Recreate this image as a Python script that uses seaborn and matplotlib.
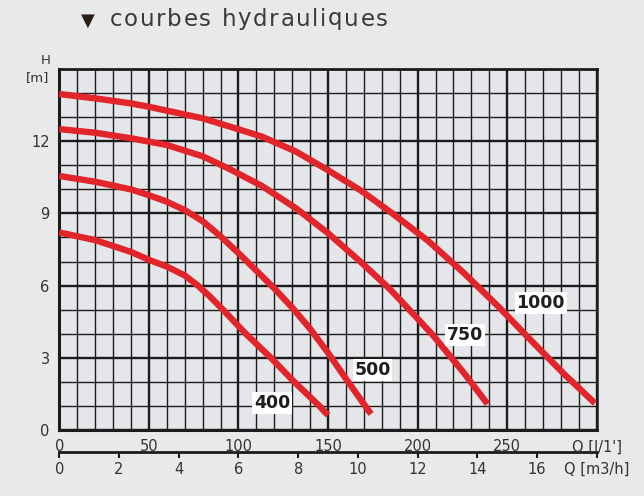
import matplotlib
matplotlib.use("Agg")
import matplotlib.pyplot as plt
from matplotlib.ticker import MultipleLocator
from matplotlib.font_manager import FontProperties, findfont, get_font
import numpy as np
import pandas as pd
import seaborn as sns

# ---- data ----
q_1000 = [0, 20, 40, 50, 60, 80, 95, 113, 132, 150, 169, 187, 206, 226, 245, 263, 282, 299]
h_1000 = [13.97, 13.79, 13.58, 13.44, 13.28, 12.96, 12.62, 12.2, 11.58, 10.8, 9.92,
          8.94, 7.85, 6.51, 5.13, 3.74, 2.3, 1.1]

q_750 = [0, 20, 40, 50, 60, 80, 95, 113, 132, 150, 169, 184, 189, 208, 226, 239]
h_750 = [12.51, 12.36, 12.13, 11.99, 11.85, 11.38, 10.85, 10.15, 9.22, 8.18, 6.93,
         5.89, 5.5, 3.98, 2.35, 1.07]

q_500 = [0, 20, 40, 50, 60, 70, 80, 90, 100, 110, 120, 130, 140, 150, 160, 174]
h_500 = [10.56, 10.32, 10.0, 9.76, 9.49, 9.14, 8.68, 8.05, 7.35, 6.62, 5.88, 5.08, 4.2,
         3.2, 2.12, 0.65]

q_400 = [0, 20, 40, 50, 60, 70, 77, 84, 91, 104, 118, 131, 145, 150]
h_400 = [8.21, 7.89, 7.4, 7.07, 6.79, 6.42, 6.02, 5.55, 5.02, 4.0, 3.0, 2.0, 1.0, 0.6]

curve_names = ["1000", "750", "500", "400"]
label_q = [268.7, 226.5, 174.8, 118.7]
label_h = [5.28, 3.95, 2.49, 1.11]

x_ticks_lpm = [0, 50, 100, 150, 200, 250, 300]
x_ticklabels_lpm = ["0", "50", "100", "150", "200", "250", "Q [l/1']"]
x_ticks_m3h = [0, 2, 4, 6, 8, 10, 12, 14, 16, 18]
x_ticklabels_m3h = ["0", "2", "4", "6", "8", "10", "12", "14", "16", "Q [m3/h]"]
y_ticks = [0, 3, 6, 9, 12, 15]
y_ticklabels = ["0", "3", "6", "9", "12", ""]

title_text = "courbes hydrauliques"

rows = []
for name, qs, hs in zip(curve_names, [q_1000, q_750, q_500, q_400],
                        [h_1000, h_750, h_500, h_400]):
    for q, h in zip(qs, hs):
        rows.append({"curve": name, "Q": q, "H": h})
df = pd.DataFrame(rows)

# ---- style ----
sns.set_style("white")
plt.rcParams["font.family"] = ["DejaVu Sans"]

W, H = 644, 496
bg = "#e9e9eb"
fig = plt.figure(figsize=(W / 100, H / 100), dpi=100, facecolor=bg)
ax = fig.add_axes([0.0921, 0.1337, 0.8345, 0.7266])
ax.set_facecolor("#e4e6ea")

red = "#e2252b"
sns.lineplot(data=df, x="Q", y="H", hue="curve", units="curve",
             estimator=None, sort=False, palette={n: red for n in curve_names},
             linewidth=4.6, legend=False, ax=ax, zorder=5)
for ln in ax.get_lines():
    ln.set_solid_capstyle("butt")
    ln.set_solid_joinstyle("round")

ax.set_xlim(0, 300)
ax.set_ylim(0, 15)
ax.set_xlabel("")
ax.set_ylabel("")

ax.xaxis.set_major_locator(MultipleLocator(50))
ax.xaxis.set_minor_locator(MultipleLocator(10))
ax.yaxis.set_major_locator(MultipleLocator(3))
ax.yaxis.set_minor_locator(MultipleLocator(1))
ax.set_xticks(x_ticks_lpm)
ax.set_xticklabels(x_ticklabels_lpm)
ax.set_yticks(y_ticks)
ax.set_yticklabels(y_ticklabels)

ax.set_axisbelow(True)
ax.grid(which="major", color="#1c1c1c", linewidth=1.7)
ax.grid(which="minor", color="#1c1c1c", linewidth=1.0)

# a few faint grey grid lines as in the reference scan
for t in ax.xaxis.get_minor_ticks():
    loc = t.get_loc()
    if loc is not None and round(loc) in (140, 220, 230):
        t.gridline.set_color("#8a8c90")

ax.tick_params(axis="both", which="major", direction="out", length=4, width=1.6,
               color="#1c1c1c", labelsize=10.5, labelcolor="#333333", pad=3)
ax.tick_params(axis="both", which="minor", length=0)

for side in ["left", "bottom", "top", "right"]:
    ax.spines[side].set_visible(True)
    ax.spines[side].set_color("#1c1c1c")
ax.spines["left"].set_linewidth(2.2)
ax.spines["bottom"].set_linewidth(2.2)
ax.spines["top"].set_linewidth(2.0)
ax.spines["right"].set_linewidth(1.8)

# secondary axis in m3/h
sec = ax.secondary_xaxis(-0.062, functions=(lambda q: np.asarray(q) * 0.06,
                                            lambda m: np.asarray(m) / 0.06))
sec.set_xticks(x_ticks_m3h)
sec.set_xticklabels(x_ticklabels_m3h)
sec.tick_params(axis="x", direction="out", length=4, width=1.5, color="#1c1c1c",
                labelsize=10.5, labelcolor="#333333", pad=3)
sec.spines["bottom"].set_linewidth(2.0)
sec.spines["bottom"].set_color("#1c1c1c")

# curve labels
for name, lq, lh in zip(curve_names, label_q, label_h):
    ax.text(lq, lh, name, ha="center", va="center", fontsize=12.5,
            fontweight="bold", color="#1e1e1e", zorder=6,
            bbox=dict(facecolor="white", edgecolor="none", pad=1.2))

# axis title texts
fig.text(46 / W, 1 - 61 / H, "H", ha="center", va="center",
         fontsize=9.5, color="#333333")
fig.text(38 / W, 1 - 78 / H, "[m]", ha="center", va="center",
         fontsize=9.5, color="#333333")

# chart title (letter-spaced like the reference)
fig.text(88 / W, 1 - 21 / H, "\u25BC", ha="center", va="center",
         fontsize=13, color="#2a1c18")
title_size = 16.5
prop = FontProperties(family="DejaVu Sans", size=title_size)
ft = get_font(findfont(prop))
ft.set_size(title_size, 100)
advances = []
for ch in title_text:
    g = ft.load_char(ord(ch))
    advances.append(g.linearHoriAdvance / 65536.0)
target_w = 278.0
extra = (target_w - sum(advances)) / (len(title_text) - 1)
x = 110.0
for ch, adv in zip(title_text, advances):
    if ch != " ":
        fig.text(x / W, 1 - 19 / H, ch, ha="left", va="center",
                 fontproperties=prop, color="#3a3a3a")
    x += adv + extra

fig.savefig("out.png", dpi=100, facecolor=bg)
